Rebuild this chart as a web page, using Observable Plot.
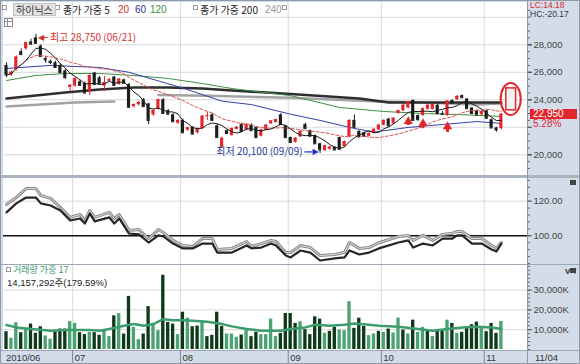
<!DOCTYPE html>
<html><head><meta charset="utf-8">
<script src="https://cdn.jsdelivr.net/npm/d3@7"></script>
<script src="https://cdn.jsdelivr.net/npm/@observablehq/plot@0.6"></script>
<style>
html,body{margin:0;padding:0;background:#fff;}
#wrap{position:relative;width:580px;height:364px;overflow:hidden;background:#d3ddea;font-family:"Liberation Sans",Arial,sans-serif;}
#wrap svg{position:absolute;left:0;}
.t{position:absolute;white-space:nowrap;}
.kr{font-family:"Noto Sans CJK KR","Noto Sans",sans-serif;}
.num{font-family:"Liberation Sans","Noto Sans CJK KR",sans-serif;}
</style></head><body><div id="wrap"></div>
<script>
// ---------------- data ----------------
const open = [26500,25800,26200,27500,27700,28200,28500,27900,27000,26800,
  26700,26500,26100,24900,25000,25300,25200,24550,25950,25600,
  25000,25350,25650,25100,25450,25100,23500,23650,24000,23700,
  22900,23300,24000,23200,22900,22300,22500,21800,22000,21600,
  21900,22800,22900,22100,20550,21750,21400,21850,22200,21800,
  22150,22000,21350,21800,22250,22350,22900,22100,21250,20900,
  21300,22200,21750,21400,20800,20300,20400,20550,21250,20600,
  21300,22500,21700,21600,21350,21550,21800,22150,22600,22250,
  23000,23200,23400,23950,22850,22850,23300,23300,23600,23000,
  22850,23950,24000,24300,24050,23400,23200,22900,23200,22550,
  21950,21900];
const high = [26700,26100,27200,27700,28200,28400,28750,28000,27150,26900,
  26800,26600,26200,25100,25600,25450,25300,25800,26000,25700,
  25700,25550,25700,25550,25500,25200,23700,23900,24100,23750,
  23300,24050,24100,23300,23000,22550,22600,22000,22050,21950,
  22850,23100,23000,22200,21250,21800,21950,22050,22300,22250,
  22250,22050,21850,22200,22500,22600,23000,22150,21300,21250,
  21750,22300,21800,21450,20850,20700,20600,20600,21300,21000,
  22550,22900,21750,21650,21600,21900,22200,22550,22650,22700,
  23250,23650,23900,24000,22900,23400,23650,23700,23700,23150,
  23950,24000,24300,24350,24100,23450,23250,23200,23250,22600,
  22000,23000];
const low = [25600,25700,26100,27200,27600,27950,28050,27100,26650,26550,
  26300,25900,25500,24600,24900,25000,24400,24300,25050,25100,
  24600,25300,25000,25050,25150,23400,23400,23550,23450,22200,
  22800,23250,22950,22900,22350,22200,21550,21700,21450,21500,
  21850,22500,22450,21200,20450,21500,21350,21800,21650,21750,
  21700,21200,21300,21750,22200,22300,22150,21200,20850,20850,
  21250,21850,21300,20750,20100,20250,20350,20300,20350,20550,
  21250,21950,21250,21300,21300,21500,21750,22100,22050,22200,
  22950,23150,23350,22450,22450,22800,23250,23250,22950,22850,
  22800,23700,23950,24100,23300,22950,22850,22850,22600,21900,
  21650,21800];
const close = [25800,26000,27100,27300,28150,28050,28100,27150,26900,26700,
  26350,25980,25600,25050,25550,25050,24500,25770,25100,25150,
  25250,25450,25050,25500,25200,23450,23650,23800,23500,22500,
  23200,24000,23000,22950,22400,22500,21600,21950,21500,21900,
  22800,22850,22500,21250,21200,21550,21900,22000,21700,22200,
  21750,21250,21800,22150,22450,22550,22200,21250,20900,21200,
  21700,21900,21350,20800,20350,20650,20550,20350,20400,20950,
  22500,22000,21300,21350,21550,21850,22150,22500,22100,22650,
  23200,23600,23850,22500,22550,23350,23600,23650,23000,22950,
  23900,23750,24250,24150,23350,23000,22900,23150,22650,21950,
  21800,22950];
// volume in thousands of shares, D = dark bar, L = light bar
const volume = [9000,5670,13500,8500,10330,12830,8170,11500,6830,5170,
  9000,10330,10330,14170,13170,8500,7500,8670,8500,7170,
  9500,6500,17000,18170,7830,26830,11170,5000,7830,21670,
  12830,9500,37500,13670,12830,7500,18830,15830,11500,11830,
  14500,6500,7170,18830,11670,7830,7830,6170,7330,9830,
  6500,8670,7500,7500,15330,6500,8170,18170,18170,13170,
  14000,10000,7500,16500,15330,8170,9170,11170,9830,9500,
  24170,10670,15830,11670,7000,7830,9170,8670,10330,8330,
  15830,9830,7830,14830,8670,11170,10000,6500,9170,9500,
  14830,13170,8170,8670,11170,12500,13830,11670,9000,13170,
  8170,14170];
const volTone = "DLLDLDDDLLDDDLLDDLDDLLDLDDLLDDLLDDDLDLDDLDDDDLLLDLDDLLLLDDDDLDDDDLDDLLLDDDLLDLDLLDLDLLDLDDLDLDDDDLDDDL";
// moving averages (index, value)
const ma60Idx = [0,9,19,25,36,44,50,58,64,70,75,82,89,96,101];
const ma60Val = [26280,26500,26350,26000,24850,23900,23650,22950,22500,21990,21650,21990,22200,22420,22280];
const ma120Idx = [0,6,12,19,26,33,40,46,58,68,77,85,92,101];
const ma120Val = [25400,25770,25910,25910,25770,25550,25180,24820,24300,23440,23150,23000,22930,22790];
const ma200Idx = [0,6,12,19,26,33,40,46,58,72,78,92,101];
const ma200Val = [24090,24310,24530,24750,24900,24900,24820,24680,24420,24090,23800,23800,23800];
const ma240Idx = [0,7,14,22,26,31,41,51,58,76,85,96,101];
const ma240Val = [23510,23650,23800,23880,null,24350,24300,24200,24150,23880,23800,23660,23730];
const volMaIdx = [0,2,5,9,12,17,19,21,24,26,28,30,32,34,36,38,41,44,46,49,52,56,58,61,63,66,69,71,74,76,80,84,87,90,93,96,99,101];
const volMaVal = [12330,11170,10330,9500,9830,9830,9500,10330,12000,12830,12000,12830,15330,14830,14830,14500,14000,12830,11670,10330,9500,9500,10330,11170,12500,12000,12500,13170,12500,12000,11500,10330,9500,10330,11170,11500,11170,10330];
// price-ratio indicator (two lines)
const indIdx = [0,2,4,6,7,9,11,13,15,16,17,18,21,22,23,25,27,29,31,32,34,36,38,40,42,43,46,49,50,52,54,55,57,58,60,62,64,67,69,70,72,74,76,80,82,83,85,87,89,91,92,93,95,97,99,100,101];
const indDark = [113.5,118.7,122.1,122.1,118.7,117.5,114.6,108.8,110,107.1,112.9,108.3,110.6,107.1,110,101.3,100.8,96.1,100.2,99.6,95.5,92.7,92.7,95.5,95.5,90.3,90.3,94.4,92.7,93.2,95.5,94.4,88.6,87.5,91.5,90.3,85.7,86.9,87.5,91.5,89.2,90.3,92.7,96.1,97.3,93.2,95.5,94.4,98.4,98.4,100.2,100.2,95.5,95.5,92.1,90.9,95.5];
const indGrey = [118.1,122.1,127.3,127.3,123.3,121.6,116.4,110.6,112.3,108.8,114.6,110.6,113.5,110,112.3,103.1,103.6,98.4,103.6,101.9,97.3,94.4,93.8,98.4,98.4,92.1,92.7,96.7,93.8,95.5,97.3,96.7,90.3,90.3,94.4,93.2,88.6,89.2,90.5,96.1,92.7,93.2,96,99.6,100.2,97.3,100.2,97.3,100.8,101.5,102.5,102.5,98.4,98.4,94.4,92.7,96.1];
// signals, annotations, axis ticks
const sigIdx = [82,85,90];
const sigTop = [22500,22350,22130];
const sigBot = [22130,21900,21620];
const peak = [{i: 6, p: 28750, label: "최고 28,750 (06/21)"}];
const trough = [{i: 64, p: 20100, label: "최저 20,100 (09/09)"}];
const forecast = [{i: 103, lo: 23230, hi: 24830, rlo: 22860, rhi: 25190}];
const monthStart = [0,14,36,58,77,98];
const monthLabel = ["2010/06","07","08","09","10","11"];
const priceGrid = [20000,22000,24000,26000,28000,30000];
const priceLabels = [20000,24000,26000,28000];
const priceMajor = [20000,22000,24000,26000,28000];
const priceMinor = d3.range(19000, 30600, 500);
const indLabels = [100,120];
const indMinor = d3.range(84, 133, 4);
const volLabels = [10000,20000,30000];
const volMinor = d3.range(0, 42001, 2000);
const lastClose = 22950, lastPct = "5.28%";

// ---------------- chart ----------------
const RED = "#e3262b", BLK = "#1c1c1c";
const FONT = "'Liberation Sans', Arial, sans-serif";
const KFONT = "'Noto Sans CJK KR', 'Noto Sans', sans-serif";
const W = 580, ML = 3, MR = 53;
const X = {domain: [-0.612, 106.33], axis: null};
const baseStyle = {background: "transparent", overflow: "visible", fontFamily: FONT, fontSize: "9.5px", color: "#3a3a3a"};
const wrap = document.getElementById("wrap");

function box(left, top, w, h, bg, extra = "") {
  const d = document.createElement("div");
  d.style.cssText = `position:absolute;left:${left}px;top:${top}px;width:${w}px;height:${h}px;background:${bg};${extra}`;
  wrap.appendChild(d); return d;
}
function label(left, cy, text, size, color, cls = "t", extra = "") {
  const d = document.createElement("div");
  d.className = cls; d.textContent = text;
  const lh = Math.round(size);
  d.style.cssText = `left:${left}px;top:${cy - lh / 2}px;font-size:${size}px;line-height:${lh}px;height:${lh}px;color:${color};${extra}`;
  wrap.appendChild(d); return d;
}
function place(svg, top) { svg.style.top = top + "px"; wrap.appendChild(svg); return svg; }

// panes
box(3, 2, 524, 173, "#fff");
box(0, 175, 580, 3, "#aab3bf");
box(3, 178, 524, 86, "#fff");
box(0, 264, 580, 1, "#9ea7b3");
box(3, 265, 524, 85, "#fff");
box(527, 0, 1, 364, "#8c96a4");
box(0, 350, 580, 1, "#9ea7b3");

const candles = close.map((c, i) => ({i, o: open[i], h: high[i], l: low[i], c, up: c >= open[i]}));
const ups = candles.filter(d => d.up), downs = candles.filter(d => !d.up);
const series = (ix, vals) => ix.map((i, k) => ({i, v: vals[k]}));
const grid = monthStart.slice(1).map(m => m - 0.5);
const sig = sigIdx.map((i, k) => ({i, t: sigTop[k], b: sigBot[k]}));

const price = Plot.plot({
  width: W, height: 176, marginLeft: ML, marginRight: MR, marginTop: 2, marginBottom: 1,
  x: X, y: {domain: [18494, 31076], axis: null}, style: baseStyle,
  marks: [
    Plot.ruleY(priceGrid, {stroke: "#d9d9d9"}),
    Plot.ruleX(grid, {stroke: "#d9d9d9"}),
    Plot.line(series(ma240Idx, ma240Val), {x: "i", y: "v", stroke: "#a3a3a3", strokeWidth: 2.5}),
    Plot.line(series(ma200Idx, ma200Val), {x: "i", y: "v", stroke: "#2e2e2e", strokeWidth: 2.5}),
    Plot.line(series(ma120Idx, ma120Val), {x: "i", y: "v", stroke: "#3f8f3f", strokeWidth: 1}),
    Plot.line(series(ma60Idx, ma60Val), {x: "i", y: "v", stroke: "#3440a8", strokeWidth: 1}),
    Plot.ruleX(downs, {x: "i", y1: "l", y2: "h", stroke: BLK}),
    Plot.ruleX(ups, {x: "i", y1: "l", y2: "h", stroke: RED}),
    Plot.rect(downs, {x1: d => d.i - 0.32, x2: d => d.i + 0.32, y1: "o", y2: "c", fill: BLK}),
    Plot.rect(ups, {x1: d => d.i - 0.32, x2: d => d.i + 0.32, y1: "o", y2: "c", fill: RED}),
    Plot.ruleY(downs, {x1: d => d.i - 0.32, x2: d => d.i + 0.32, y: "c", stroke: BLK}),
    Plot.ruleY(ups, {x1: d => d.i - 0.32, x2: d => d.i + 0.32, y: "c", stroke: RED}),
    Plot.lineY(candles, Plot.windowY({k: 20, anchor: "end"}, {x: "i", y: "c", stroke: "#d9534f", strokeWidth: 1, strokeDasharray: "3,2"})),
    Plot.lineY(candles, Plot.windowY({k: 5, anchor: "end"}, {x: "i", y: "c", stroke: "#1a1a1a", strokeWidth: 1})),
    Plot.ruleX(sig, {x: "i", y1: "b", y2: "t", stroke: RED, strokeWidth: 3}),
    Plot.dot(sig, {x: "i", y: "t", symbol: "triangle", r: 3.4, fill: RED, stroke: "none", dy: 1}),
    Plot.text(peak, {x: "i", y: "p", text: "label", textAnchor: "start", dx: 14, dy: 3, fill: "#d6322e", fontSize: 10, fontFamily: KFONT}),
    Plot.text(peak, {x: "i", y: "p", text: () => "◀", textAnchor: "start", dx: 2, dy: 3, fill: "#d6322e", fontSize: 8, fontFamily: "DejaVu Sans"}),
    Plot.ruleY(peak, {y: "p", x1: d => d.i + 1.4, x2: d => d.i + 2.5, dy: 3, stroke: "#d6322e"}),
    Plot.text(trough, {x: "i", y: "p", text: "label", textAnchor: "end", dx: -17.5, dy: -1.5, fill: "#26389a", fontSize: 10, fontFamily: KFONT}),
    Plot.text(trough, {x: "i", y: "p", text: () => "▶", textAnchor: "end", dx: -1.5, dy: -1.5, fill: "#2236c8", fontSize: 8, fontFamily: "DejaVu Sans"}),
    Plot.ruleY(trough, {y: "p", x1: d => d.i - 3.1, x2: d => d.i - 1.4, dy: -1.5, stroke: "#2236c8", strokeWidth: 1.3}),
    Plot.rect(forecast, {x1: d => d.i - 2.05, x2: d => d.i + 2.05, y1: "rlo", y2: "rhi", rx: 10, ry: 16, fill: "none", stroke: RED, strokeWidth: 2}),
    Plot.rect(forecast, {x1: d => d.i - 1.0, x2: d => d.i + 1.0, y1: "lo", y2: "hi", fill: "#f2f2f2", stroke: RED, strokeWidth: 1.5}),
    Plot.axisY({anchor: "right", ticks: priceMinor, tickSize: 2, tickFormat: () => "", stroke: "#666"}),
    Plot.axisY({anchor: "right", ticks: priceMajor, tickSize: 4, tickFormat: () => "", stroke: "#555"}),
    Plot.axisY({anchor: "right", ticks: priceLabels, tickSize: 4, tickPadding: 2, tickFormat: d3.format(","), stroke: "#555", fill: "#444"})
  ]
});
place(price, 0);

// last price tag
const yTag = price.scale("y").apply(lastClose);
box(530, yTag - 5, 47, 10, RED);
label(533, yTag, d3.format(",")(lastClose), 10, "#fff");
label(533, yTag + 10.5, lastPct, 10, RED);

const ind = indIdx.map((i, k) => ({i, d: indDark[k], g: indGrey[k]}));
const indicator = Plot.plot({
  width: W, height: 88, marginLeft: ML, marginRight: MR, marginTop: 1, marginBottom: 1,
  x: X, y: {domain: [83.4, 133.1], axis: null}, style: baseStyle,
  marks: [
    Plot.ruleY([120], {stroke: "#d9d9d9"}),
    Plot.ruleX(grid, {stroke: "#d9d9d9"}),
    Plot.ruleY([100], {stroke: "#111", strokeWidth: 1.6}),
    Plot.line(ind, {x: "i", y: "g", stroke: "#8a8a8a", strokeWidth: 3}),
    Plot.line(ind, {x: "i", y: "g", stroke: "#dcdcdc", strokeWidth: 1}),
    Plot.line(ind, {x: "i", y: "d", stroke: "#262626", strokeWidth: 2.2}),
    Plot.axisY({anchor: "right", ticks: indMinor, tickSize: 2, tickFormat: () => "", stroke: "#666"}),
    Plot.axisY({anchor: "right", ticks: indLabels, tickSize: 4, tickPadding: 2, tickFormat: d => d.toFixed(2), stroke: "#555", fill: "#444"})
  ]
});
place(indicator, 177);

const vols = volume.map((v, i) => ({i, v, dark: volTone[i] === "D"}));
const volumePlot = Plot.plot({
  width: W, height: 87, marginLeft: ML, marginRight: MR, marginTop: 1, marginBottom: 2,
  x: X, y: {domain: [0, 42424], axis: null}, style: baseStyle,
  marks: [
    Plot.ruleY(volLabels, {stroke: "#d9d9d9"}),
    Plot.ruleX(grid, {stroke: "#d9d9d9"}),
    Plot.rect(vols.filter(d => d.dark), {x1: d => d.i - 0.34, x2: d => d.i + 0.34, y1: () => 0, y2: "v", fill: "#0f3a19"}),
    Plot.rect(vols.filter(d => !d.dark), {x1: d => d.i - 0.34, x2: d => d.i + 0.34, y1: () => 0, y2: "v", fill: "#4aa372"}),
    Plot.line(series(volMaIdx, volMaVal), {x: "i", y: "v", stroke: "#3d9c6c", strokeWidth: 2.5}),
    Plot.axisY({anchor: "right", ticks: volMinor, tickSize: 2, tickFormat: () => "", stroke: "#666"}),
    Plot.axisY({anchor: "right", ticks: volLabels, tickSize: 4, tickPadding: 2, tickFormat: d => d3.format(",")(d) + "K", stroke: "#555", fill: "#444"})
  ]
});
place(volumePlot, 264);

const months = monthStart.map((m, k) => ({x: m - 0.5, label: monthLabel[k]}));
const dates = Plot.plot({
  width: W, height: 14, marginLeft: ML, marginRight: MR, marginTop: 0, marginBottom: 0,
  x: X, y: {axis: null}, style: baseStyle,
  marks: [
    Plot.ruleX(months.slice(1), {x: "x", stroke: "#7d8796"}),
    Plot.text(months, {x: "x", text: "label", textAnchor: "start", dx: 2, fill: "#333", fontSize: 9.5})
  ]
});
place(dates, 350);
label(535, 357.5, "11/04", 9.5, "#333");

// header legend
function sq(left, top) { box(left, top, 3, 3, "#fff", "border:1px solid #9a9a9a;"); }
sq(2, 5); sq(55, 5); sq(193, 5); sq(282, 5);
label(13, 7.5, "하이닉스", 10, "#333", "t kr", "background:#e3e3e3;border:1px solid #c2c2c2;padding:0 2px;line-height:11px;height:11px;");
label(63, 9.5, "종가 가중 5", 10, "#222", "t kr");
label(118, 9.5, "20", 10, "#d03030");
label(135, 9.5, "60", 10, "#2a3590");
label(150, 9.5, "120", 10, "#3f8f3f");
label(200, 9.5, "종가 가중 200", 10, "#222", "t kr");
label(265, 9.5, "240", 10, "#999");
box(4, 18, 7, 7, "#fff", "border:1px solid #8a8a8a;background-image:linear-gradient(#8a8a8a,#8a8a8a),linear-gradient(90deg,#8a8a8a,#8a8a8a);background-size:100% 1px,1px 100%;background-position:0 2px,2px 0;background-repeat:no-repeat;");
label(530, 5.5, "LC:14.18", 8.5, RED);
label(530, 14.5, "HC:-20.17", 8.5, "#333");

// volume header
sq(6, 267);
label(13, 269, "거래량 가중 17", 9, "#3b9a78", "t kr");
label(7, 282.5, "14,157,292주(179.59%)", 9.5, "#222", "t num");

// small panel icons
box(570, 180, 6, 5, "#444");
box(570, 268, 6, 5, "#444");
// outer frame
box(0, 0, 578, 362, "transparent", "border:1px solid #8e98a6;");
</script></body></html>
